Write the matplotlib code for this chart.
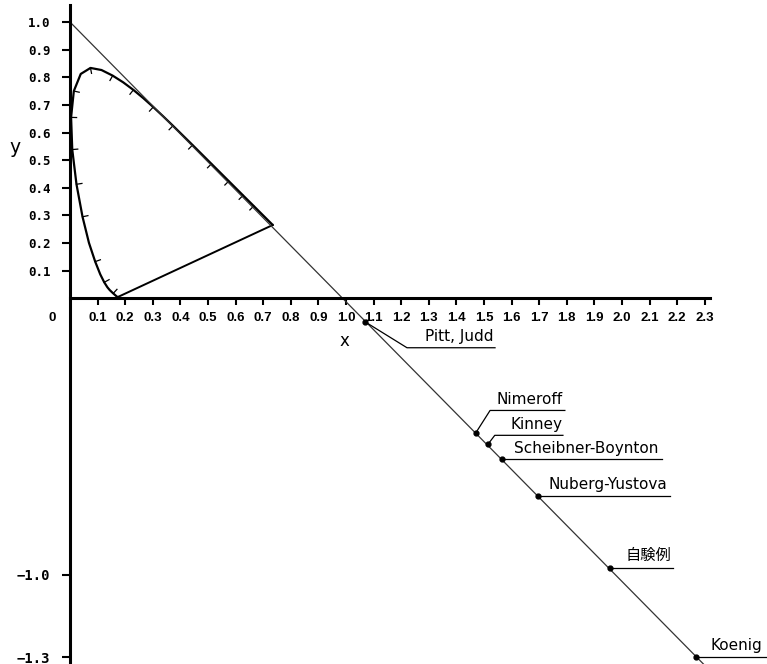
import matplotlib.pyplot as plt
import numpy as np

# CIE 1931 spectral locus (x, y) from 380 to 700 nm
wl = [380, 390, 400, 410, 420, 430, 440, 450, 460, 465, 470, 475, 480, 485, 490,
      495, 500, 505, 510, 515, 520, 525, 530, 535, 540, 545, 550, 555, 560, 570,
      580, 590, 600, 610, 620, 630, 640, 650, 660, 680, 700]
loc_x = [0.1741, 0.1738, 0.1733, 0.1726, 0.1714, 0.1689, 0.1644, 0.1566, 0.1440,
         0.1355, 0.1241, 0.1096, 0.0913, 0.0687, 0.0454, 0.0235, 0.0082, 0.0039,
         0.0139, 0.0389, 0.0743, 0.1142, 0.1547, 0.1929, 0.2296, 0.2658, 0.3016,
         0.3373, 0.3731, 0.4441, 0.5125, 0.5752, 0.6270, 0.6658, 0.6915, 0.7079,
         0.7190, 0.7260, 0.7300, 0.7334, 0.7347]
loc_y = [0.0050, 0.0049, 0.0048, 0.0048, 0.0051, 0.0069, 0.0109, 0.0177, 0.0297,
         0.0399, 0.0578, 0.0868, 0.1327, 0.2007, 0.2950, 0.4127, 0.5384, 0.6548,
         0.7502, 0.8120, 0.8338, 0.8262, 0.8059, 0.7816, 0.7543, 0.7243, 0.6923,
         0.6589, 0.6245, 0.5547, 0.4866, 0.4242, 0.3725, 0.3340, 0.3083, 0.2920,
         0.2809, 0.2740, 0.2700, 0.2666, 0.2653]
tick_wl = [450, 470, 480, 490, 495, 500, 505, 510, 520, 530, 540, 550, 560, 570,
           580, 590, 600, 610]

# x + y = 1 line (as drawn)
line_x = [0.0, 2.40]
line_y = [1.0, -1.43]

# reported points on the line
names = ["Pitt, Judd", "Nimeroff", "Kinney", "Scheibner-Boynton",
         "Nuberg-Yustova", "自験例", "Koenig"]
pt_x = [1.069, 1.471, 1.514, 1.565, 1.696, 1.957, 2.268]
pt_y = [-0.085, -0.486, -0.529, -0.583, -0.714, -0.975, -1.297]

xticks = [round(0.1 * i, 1) for i in range(1, 24)]
yticks = [0.1, 0.2, 0.3, 0.4, 0.5, 0.6, 0.7, 0.8, 0.9, 1.0, -1.0, -1.3]

# label layout: elbow offset (dx, dy) from point, underline end x
elbow = [(0.152, -0.094), (0.051, 0.080), (0.025, 0.033), (0, 0), (0, 0), (0, 0), (0, 0)]
ul_end = [1.540, 1.793, 1.786, 2.145, 2.174, 2.185, 2.56]
txt_end = [1.533, 1.786, 1.786, 2.131, 2.163, 2.178, 2.510]

fig = plt.figure(figsize=[7.67, 6.64], dpi=100)
ax = fig.add_axes([0, 0, 1, 1])
ax.set_xlim(-0.2536, 2.5254)
ax.set_ylim(-1.3237, 1.0797)

for s in ['top', 'right']:
    ax.spines[s].set_visible(False)
ax.spines['left'].set_position(('data', 0))
ax.spines['bottom'].set_position(('data', 0))
ax.spines['left'].set_bounds(-1.33, 1.06)
ax.spines['bottom'].set_bounds(0, 2.32)
ax.spines['left'].set_linewidth(2.2)
ax.spines['bottom'].set_linewidth(2.2)

ax.set_xticks(xticks)
ax.set_xticklabels([f"{v:.1f}" for v in xticks], family='Liberation Sans',
                   fontweight='bold', fontsize=9.5)
ax.set_yticks(yticks)
ax.set_yticklabels([f"{v:.1f}".replace('-', '\u2212') for v in yticks],
                   family='DejaVu Sans Mono', fontweight='bold', fontsize=9)
for v, lab in zip(yticks, ax.get_yticklabels()):
    if v < 0:
        lab.set_fontsize(10)
ax.tick_params(axis='x', direction='out', length=5, width=1.5, pad=5)
ax.tick_params(axis='y', direction='out', length=6, width=1.5, pad=8)

ax.text(-0.066, -0.072, "0", family='Liberation Sans', fontweight='bold',
        fontsize=9.5, ha='center', va='center')
ax.text(0.995, -0.155, "x", fontsize=12, ha='center', va='center')
ax.text(-0.198, 0.545, "y", fontsize=13.5, ha='center', va='center')

# spectral locus and purple line
ax.plot(loc_x, loc_y, color='black', lw=1.6, solid_capstyle='round')
ax.plot([loc_x[0], loc_x[-1]], [loc_y[0], loc_y[-1]], color='black', lw=1.4)

# wavelength ticks, pointing inward
lx = np.array(loc_x)
ly = np.array(loc_y)
for w in tick_wl:
    i = wl.index(w)
    tx = lx[i + 1] - lx[i - 1]
    ty = ly[i + 1] - ly[i - 1]
    n = np.hypot(tx, ty)
    nx, ny = ty / n, -tx / n
    ax.plot([lx[i], lx[i] + 0.02 * nx], [ly[i], ly[i] + 0.02 * ny],
            color='black', lw=0.9)

ax.plot(line_x, line_y, color='#333333', lw=0.9)
ax.plot(pt_x, pt_y, 'o', color='black', ms=3.5)

for name, x, y, (dx, dy), ue, te in zip(names, pt_x, pt_y, elbow, ul_end, txt_end):
    ex, ey = x + dx, y + dy
    ax.plot([x, ex, ue], [y, ey, ey], color='black', lw=0.9)
    fam = ['Noto Sans CJK JP', 'DejaVu Sans'] if name == "自験例" else ['DejaVu Sans']
    ax.text(te, ey + 0.012, name, family=fam, fontsize=11,
            ha='right', va='bottom')

fig.savefig("out.png", dpi=100, facecolor='white')
